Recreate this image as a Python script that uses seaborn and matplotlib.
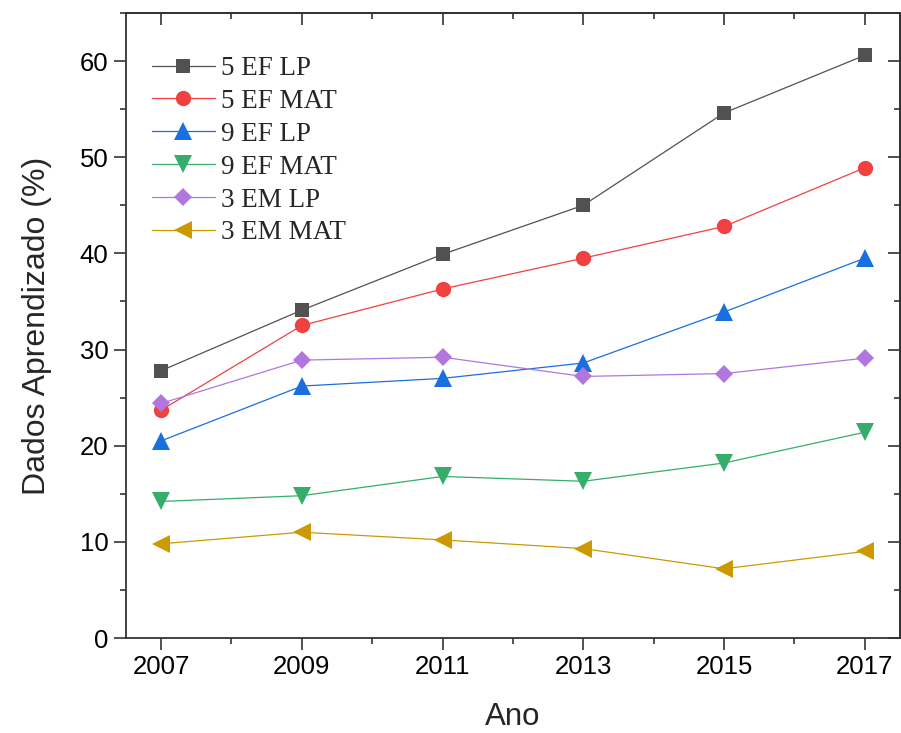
import pandas as pd
import matplotlib.pyplot as plt
import seaborn as sns
from matplotlib.ticker import MultipleLocator

# data
anos = [2007, 2009, 2011, 2013, 2015, 2017]
ef5_lp = [27.8, 34.1, 39.9, 45.0, 54.6, 60.6]
ef5_mat = [23.7, 32.5, 36.3, 39.5, 42.8, 48.9]
ef9_lp = [20.5, 26.2, 27.0, 28.6, 33.9, 39.5]
ef9_mat = [14.2, 14.8, 16.8, 16.3, 18.2, 21.4]
em3_lp = [24.4, 28.9, 29.2, 27.2, 27.5, 29.1]
em3_mat = [9.8, 11.0, 10.2, 9.3, 7.2, 9.0]

series = {
    "5 EF LP": ef5_lp,
    "5 EF MAT": ef5_mat,
    "9 EF LP": ef9_lp,
    "9 EF MAT": ef9_mat,
    "3 EM LP": em3_lp,
    "3 EM MAT": em3_mat,
}
cores = ["#515151", "#F14040", "#1A6FDF", "#37AD6B", "#B177DE", "#CC9900"]
marcadores = ["s", "o", "^", "v", "D", "<"]
tamanhos = [10, 11, 12.5, 12.5, 9, 12.5]

df = pd.DataFrame([
    {"Ano": a, "Serie": nome, "Valor": v}
    for nome, vals in series.items() for a, v in zip(anos, vals)
])

sns.set_style("ticks")
plt.rcParams["font.family"] = ["Liberation Sans", "DejaVu Sans"]

fig = plt.figure(figsize=(9.01, 7.33), dpi=100)
ax = fig.add_axes([0.1398, 0.1296, 0.859, 0.8527])

for (nome, _), cor, mk, ms in zip(series.items(), cores, marcadores, tamanhos):
    sns.lineplot(
        data=df[df["Serie"] == nome], x="Ano", y="Valor", ax=ax,
        color=cor, marker=mk, markersize=ms, markeredgewidth=0,
        linewidth=0.9, label=nome,
    )

ax.set_xlim(2006.5, 2017.5)
ax.set_ylim(0, 65)
ax.set_xticks(anos)
ax.xaxis.set_minor_locator(MultipleLocator(1))
ax.yaxis.set_major_locator(MultipleLocator(10))
ax.yaxis.set_minor_locator(MultipleLocator(5))

for s in ax.spines.values():
    s.set_visible(True)
    s.set_linewidth(1.3)
    s.set_color("#333333")

ax.tick_params(which="major", direction="out", length=8.5, width=1.2,
               labelsize=18.5, colors="#333333", labelcolor="black", pad=4)
ax.tick_params(which="minor", direction="out", length=4.3, width=1.2,
               colors="#333333")

# top and right ticks pointing inward
top = ax.secondary_xaxis("top")
top.set_xticks(anos)
top.xaxis.set_minor_locator(MultipleLocator(1))
top.tick_params(which="both", direction="in", labeltop=False, width=1.2,
                colors="#333333")
top.tick_params(which="major", length=8.5)
top.tick_params(which="minor", length=4.3)
top.spines["top"].set_linewidth(1.3)
right = ax.secondary_yaxis("right")
right.yaxis.set_major_locator(MultipleLocator(10))
right.yaxis.set_minor_locator(MultipleLocator(5))
right.tick_params(which="both", direction="in", labelright=False, width=1.2,
                  colors="#333333")
right.tick_params(which="major", length=8.5)
right.tick_params(which="minor", length=4.3)
right.spines["right"].set_linewidth(1.3)

ax.set_xlabel("Ano", fontsize=22.5, labelpad=16)
ax.set_ylabel("Dados Aprendizado (%)", fontsize=23, labelpad=20)

ax.legend(loc="upper left", frameon=False, prop={"family": "Liberation Serif", "size": 19.5},
          handlelength=2.3, handletextpad=0.25, labelspacing=0.29,
          bbox_to_anchor=(-0.008, 0.983), borderaxespad=0.8)

fig.savefig("out.png", dpi=100)
